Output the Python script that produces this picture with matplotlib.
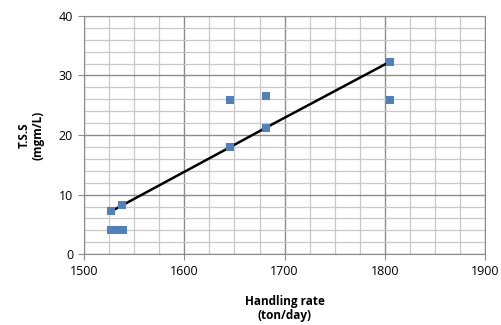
import numpy as np
import matplotlib.pyplot as plt
from matplotlib.ticker import MultipleLocator

# handling rate (ton/day) vs total suspended solids
rate_obs = [1527, 1538, 1527, 1533, 1539, 1646, 1646, 1681, 1681, 1805, 1805]
tss_obs = [7.2, 8.2, 4.0, 4.0, 4.0, 18.0, 25.9, 26.6, 21.2, 32.3, 25.9]

# fitted trend points
rate_fit = [1527, 1538, 1646, 1681, 1805]
tss_fit = [7.2, 8.2, 18.0, 21.2, 32.3]

plt.rcParams['font.family'] = ['Open Sans', 'DejaVu Sans']

fig = plt.figure(figsize=(5.01, 3.25), dpi=100)
ax = fig.add_axes([0.168, 0.218, 0.800, 0.733])

ax.plot(rate_fit, tss_fit, color='black', lw=1.8, zorder=3)
ax.scatter(rate_obs, tss_obs, marker='s', s=38, color='#4F81BD', zorder=4, linewidths=0)

ax.set_xlim(1500, 1900)
ax.set_ylim(0, 40)
ax.xaxis.set_major_locator(MultipleLocator(100))
ax.xaxis.set_minor_locator(MultipleLocator(25))
ax.yaxis.set_major_locator(MultipleLocator(10))
ax.yaxis.set_minor_locator(MultipleLocator(2))

ax.grid(which='minor', color='#c8c8c8', lw=0.9)
ax.grid(which='major', color='#8c8c8c', lw=1.0)
ax.set_axisbelow(True)

for s in ax.spines.values():
    s.set_color('#8c8c8c')
ax.tick_params(which='major', length=4, color='#8c8c8c', labelsize=9, pad=4)
ax.tick_params(which='minor', length=0)

ax.set_xlabel('Handling rate\n(ton/day)', fontsize=8.5, fontweight='bold', labelpad=12,
              linespacing=1.1)
ax.set_ylabel('T.S.S\n(mgm/L)', fontsize=8.5, fontweight='bold', labelpad=10,
              linespacing=1.1)

fig.savefig('out.png', dpi=100)
